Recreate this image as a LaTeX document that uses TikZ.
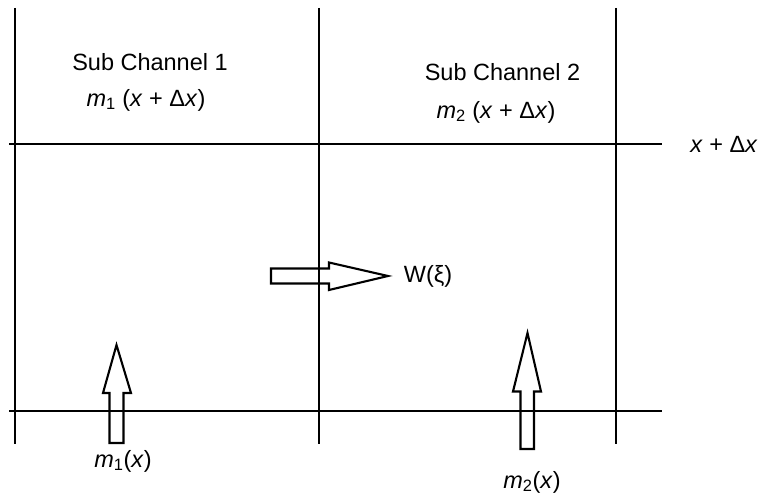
\documentclass[tikz,border=0pt]{standalone}
\usepackage{fontspec}
\setmainfont{Liberation Sans}
\begin{document}
\begin{tikzpicture}[x=1pt,y=-1pt,
  wall/.style={line width=2.5pt},
  flow/.style={line width=2.1pt, line join=miter},
  lbl/.style={inner sep=0pt, font=\fontsize{23.5}{27}\selectfont}]
\useasboundingbox (0,0) rectangle (758,494);
% grid lines
\draw[wall] (15,8) -- (15,444);
\draw[wall] (319,8) -- (319,444);
\draw[wall] (616,8) -- (616,444);
\draw[wall] (9,144) -- (662,144);
\draw[wall] (9,411) -- (662,411);
% horizontal flow arrow W
\draw[flow] (271,268.5) -- (329,268.5) -- (329,262.5) -- (388,276) -- (329,290) -- (329,283.5) -- (271,283.5) -- cycle;
% vertical flow arrow 1
\draw[flow] (109.5,443) -- (109.5,393) -- (103,393) -- (116.5,345) -- (131,393) -- (123.5,393) -- (123.5,443) -- cycle;
% vertical flow arrow 2
\draw[flow] (520.5,449) -- (520.5,391.5) -- (513,391.5) -- (527.5,333) -- (541,391.5) -- (534,391.5) -- (534,449) -- cycle;
% labels
\node[lbl] (sc1) at (150,62) {Sub Channel 1};
\node[lbl] (m1top) at (146,100) {\textit{m}\textsubscript{1} (\textit{x} + Δ\textit{x})};
\node[lbl] (sc2) at (502.5,72) {Sub Channel 2};
\node[lbl] (m2top) at (496,112) {\textit{m}\textsubscript{2} (\textit{x} + Δ\textit{x})};
\node[lbl] (xdx) at (724,144) {\textit{x} + Δ\textit{x}};
\node[lbl] (w) at (428,276) {W(ξ)};
\node[lbl] (m1b) at (123,461) {\textit{m}\textsubscript{1}(\textit{x})};
\node[lbl] (m2b) at (532,482) {\textit{m}\textsubscript{2}(\textit{x})};
\end{tikzpicture}
\end{document}
